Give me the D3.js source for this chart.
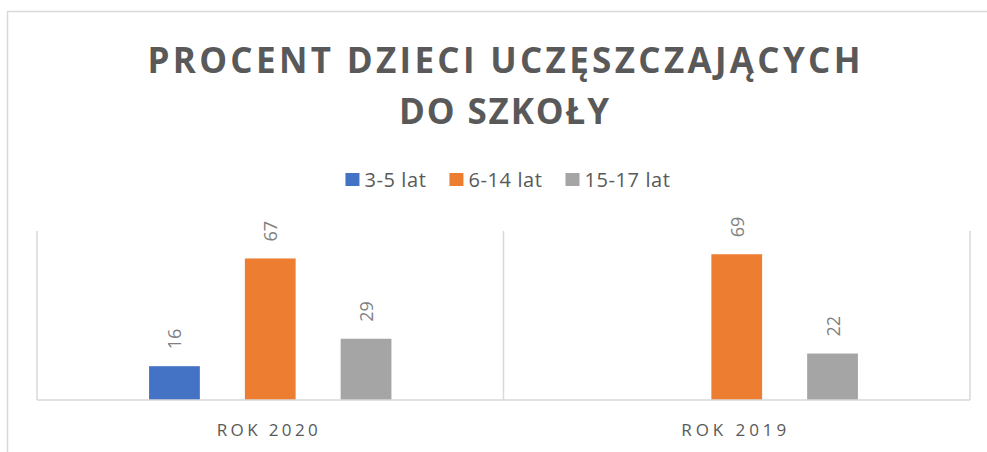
<!DOCTYPE html>
<html>
<head>
<meta charset="utf-8">
<script src="https://cdn.jsdelivr.net/npm/d3@7"></script>
<style>
  html, body { margin: 0; padding: 0; background: #ffffff; }
  svg { display: block; font-family: "Open Sans", "DejaVu Sans", sans-serif; }
</style>
</head>
<body>
<svg id="chart" width="987" height="452"></svg>
<script>
// ---- data ----
const titleLines = ["PROCENT DZIECI UCZĘSZCZAJĄCYCH", "DO SZKOŁY"];
const categories = ["ROK 2020", "ROK 2019"];
const seriesNames = ["3-5 lat", "6-14 lat", "15-17 lat"];
const seriesColors = ["#4472C4", "#ED7D31", "#A5A5A5"];
const values3to5 = [16, null];
const values6to14 = [67, 69];
const values15to17 = [29, 22];
const yTicks = [0, 80];

const seriesValues = [values3to5, values6to14, values15to17];

// ---- layout ----
const W = 987, H = 452;
const plot = { left: 37, right: 970, top: 231, bottom: 400 };

const svg = d3.select("#chart");

// outer chart border
svg.append("rect")
  .attr("x", 7.5).attr("y", 11.5)
  .attr("width", W + 20).attr("height", H + 20)
  .attr("fill", "none").attr("stroke", "#d9d9d9").attr("stroke-width", 1.5);

// title
const titleG = svg.append("g");
const titleWidths = [713, 210];
const titleBaselines = [73, 124];
titleLines.forEach((t, i) => {
  titleG.append("text")
    .attr("x", 504).attr("y", titleBaselines[i])
    .attr("text-anchor", "middle")
    .attr("font-size", 35).attr("font-weight", 700)
    .attr("fill", "#595959")
    .attr("textLength", titleWidths[i]).attr("lengthAdjust", "spacing")
    .text(t);
});

// scales
const x0 = d3.scaleBand().domain(categories).range([plot.left, plot.right]).padding(0);
const x1 = d3.scaleBand().domain(seriesNames).range([0, x0.bandwidth()])
  .paddingInner(0.47).paddingOuter(1.17);
const y = d3.scaleLinear().domain([yTicks[0], yTicks[1]]).range([plot.bottom, plot.top]);

// vertical category gridlines
const gridXs = categories.map(c => x0(c)).concat([x0(categories[categories.length - 1]) + x0.bandwidth()]);
svg.append("g").selectAll("line").data(gridXs).join("line")
  .attr("x1", d => d).attr("x2", d => d)
  .attr("y1", plot.top).attr("y2", plot.bottom)
  .attr("stroke", "#d9d9d9").attr("stroke-width", 1.5);

// bars
const barData = [];
categories.forEach((c, ci) => {
  seriesNames.forEach((s, si) => {
    const v = seriesValues[si][ci];
    if (v != null) barData.push({ c, s, si, v });
  });
});

svg.append("g").selectAll("rect").data(barData).join("rect")
  .attr("x", d => x0(d.c) + x1(d.s))
  .attr("y", d => y(d.v))
  .attr("width", x1.bandwidth())
  .attr("height", d => y(0) - y(d.v))
  .attr("fill", d => seriesColors[d.si]);

// data labels (rotated)
svg.append("g").selectAll("text").data(barData).join("text")
  .attr("transform", d => {
    const cx = x0(d.c) + x1(d.s) + x1.bandwidth() / 2 + 0.5;
    const cy = y(d.v) - 17;
    return `translate(${cx},${cy}) rotate(-90)`;
  })
  .attr("text-anchor", "start")
  .attr("dy", "0.36em")
  .attr("font-size", 18)
  .attr("fill", "#808080")
  .text(d => d.v);

// baseline axis
svg.append("line")
  .attr("x1", plot.left).attr("x2", plot.right)
  .attr("y1", y(0)).attr("y2", y(0))
  .attr("stroke", "#d9d9d9").attr("stroke-width", 1.5);

// category labels
const catWidths = [101, 105];
svg.append("g").selectAll("text").data(categories).join("text")
  .attr("x", d => x0(d) + x0.bandwidth() / 2 - 3)
  .attr("y", 436)
  .attr("text-anchor", "middle")
  .attr("font-size", 17)
  .attr("fill", "#595959")
  .attr("textLength", (d, i) => catWidths[i]).attr("lengthAdjust", "spacing")
  .text(d => d);

// legend
const legend = svg.append("g");
const items = seriesNames.map((s, i) => {
  const g = legend.append("g");
  g.append("rect").attr("x", 0).attr("y", 173).attr("width", 14).attr("height", 13)
    .attr("fill", seriesColors[i]);
  const t = g.append("text").attr("x", 19).attr("y", 187)
    .attr("font-size", 20).attr("letter-spacing", 0.6).attr("fill", "#595959").text(s);
  return { g, w: 19 + t.node().getComputedTextLength() };
});
const gap = 23;
const totalW = d3.sum(items, d => d.w) + gap * (items.length - 1);
let lx = 508 - totalW / 2;
items.forEach(it => {
  it.g.attr("transform", `translate(${lx},0)`);
  lx += it.w + gap;
});
</script>
</body>
</html>
